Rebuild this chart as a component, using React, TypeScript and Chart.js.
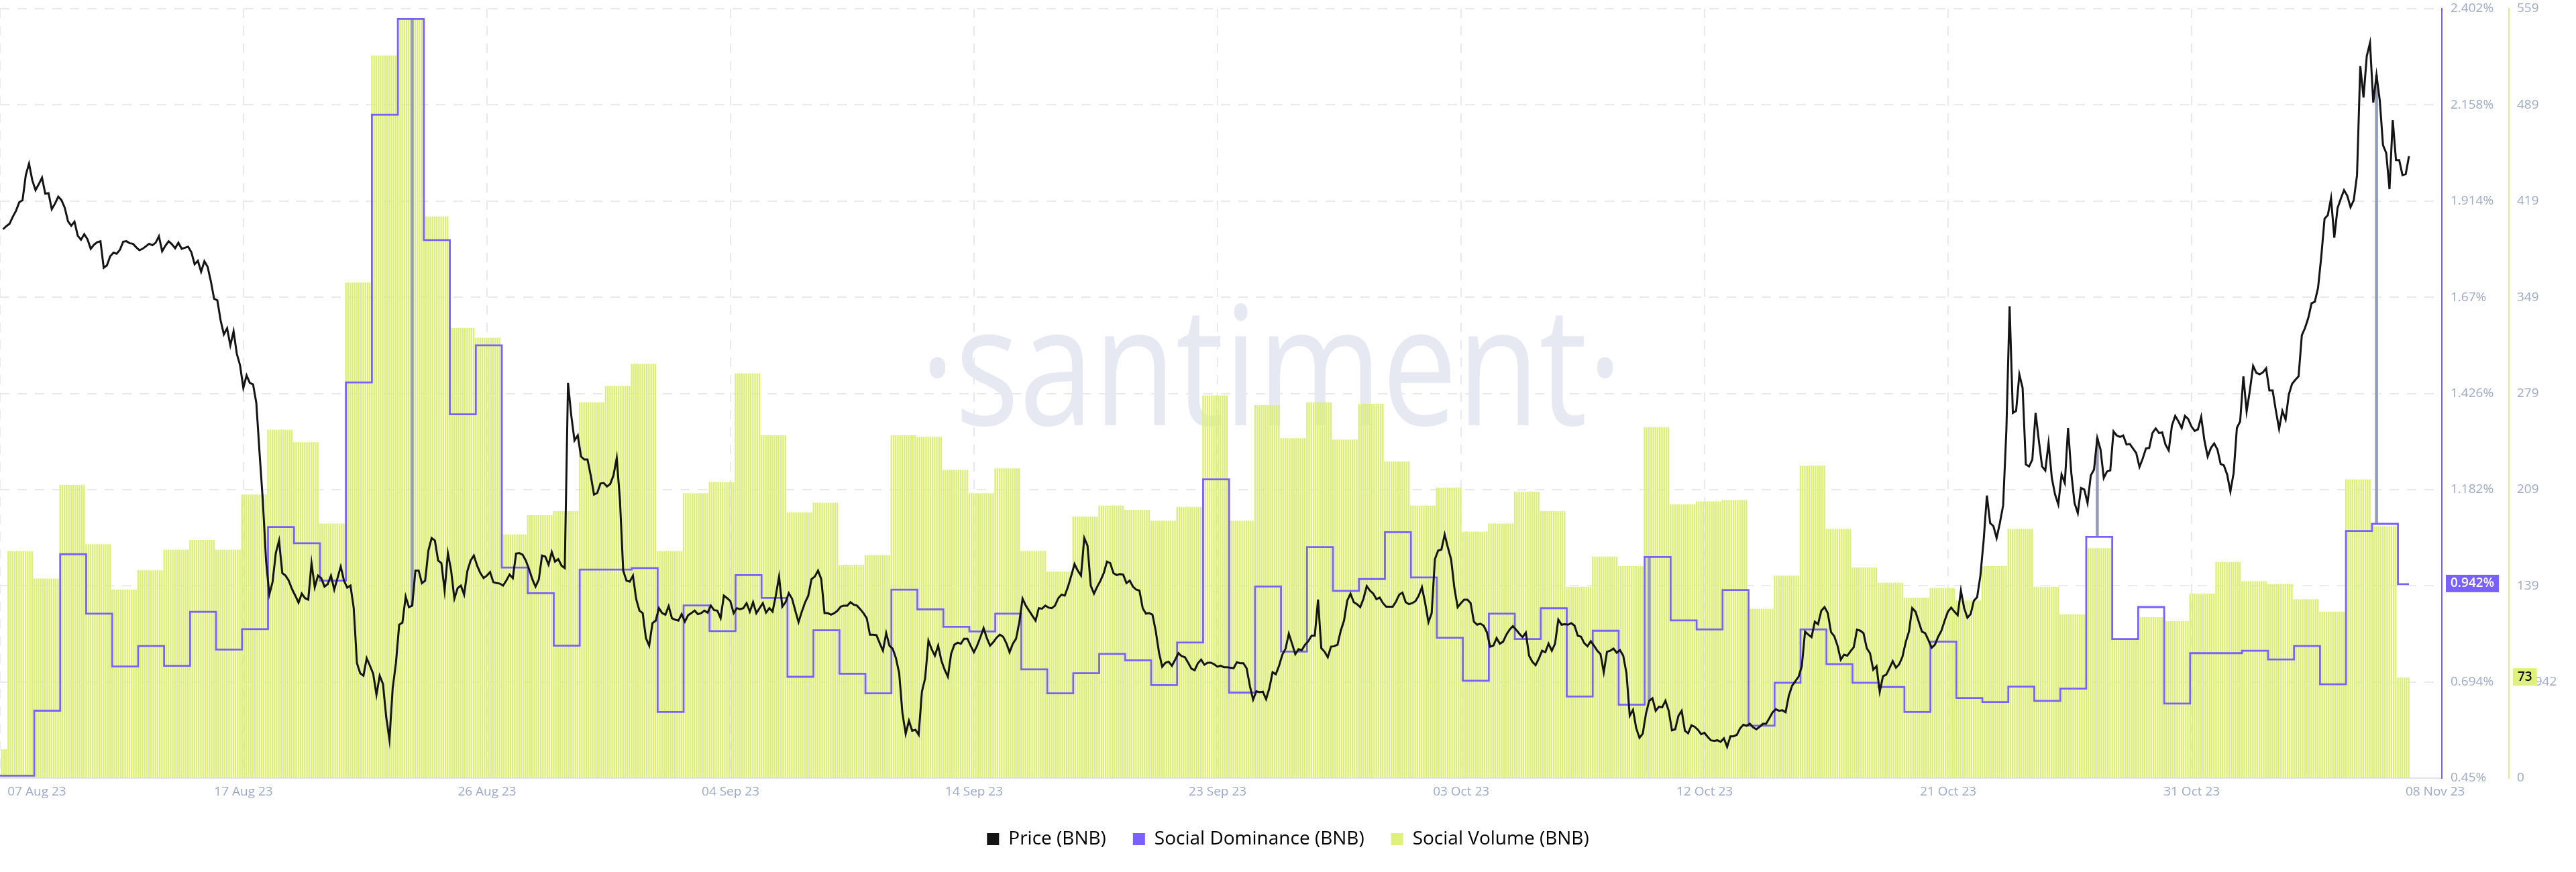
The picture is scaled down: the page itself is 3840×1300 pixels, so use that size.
import React, { useEffect, useRef } from 'react';
import { Chart, registerables } from 'chart.js';

Chart.register(...registerables);

// ---------- axis labels ----------
const xTickLabels = ['07 Aug 23', '17 Aug 23', '26 Aug 23', '04 Sep 23', '14 Sep 23', '23 Sep 23', '03 Oct 23', '12 Oct 23', '21 Oct 23', '31 Oct 23', '08 Nov 23'];
const domTickValues = [0.45, 0.694, 0.938, 1.182, 1.426, 1.67, 1.914, 2.158, 2.402];
const domTickLabels = ['0.45%', '0.694%', '0.938%', '1.182%', '1.426%', '1.67%', '1.914%', '2.158%', '2.402%'];
const volTickLabels = ['0', '69.942', '139', '209', '279', '349', '419', '489', '559'];

// ---------- daily series (day 0 = 07 Aug 23) ----------
const socialVolume = [
  21, 165, 145, 213, 170, 137, 151, 166, 173, 166,
  206, 253, 244, 185, 360, 525, 551, 408, 327, 320,
  177, 191, 194, 273, 285, 301, 165, 207, 215, 294,
  249, 193, 200, 155, 162, 249, 248, 224, 207, 225,
  165, 150, 190, 198, 195, 187, 197, 278, 187, 271,
  247, 273, 246, 272, 230, 198, 211, 179, 185, 208,
  194, 139, 161, 154, 255, 199, 201, 202, 123, 147,
  227, 181, 153, 142, 131, 138, 129, 154, 181, 139,
  119, 167, 101, 117, 114, 134, 157, 143, 141, 130,
  121, 217, 183, 73,
];

const socialDominance = [
  0.456, 0.456, 0.621, 1.018, 0.867, 0.733, 0.785, 0.735, 0.872, 0.776,
  0.828, 1.087, 1.046, 0.951, 1.454, 2.133, 2.376, 1.815, 1.373, 1.548,
  0.984, 0.919, 0.786, 0.979, 0.979, 0.983, 0.618, 0.888, 0.823, 0.965,
  0.907, 0.707, 0.825, 0.715, 0.665, 0.928, 0.878, 0.834, 0.822, 0.867,
  0.726, 0.665, 0.716, 0.765, 0.749, 0.686, 0.794, 1.208, 0.667, 0.936,
  0.771, 1.036, 0.925, 0.955, 1.074, 0.959, 0.806, 0.697, 0.867, 0.803,
  0.881, 0.657, 0.824, 0.636, 1.011, 0.850, 0.827, 0.927, 0.583, 0.692,
  0.827, 0.739, 0.692, 0.681, 0.618, 0.796, 0.653, 0.643, 0.682, 0.646,
  0.677, 1.062, 0.803, 0.884, 0.639, 0.767, 0.767, 0.773, 0.751, 0.785,
  0.688, 1.077, 1.095, 0.942,
];

// ---------- price, one value every 3 hours from day 0.8 ----------
const PRICE_START = 0.8;
const PRICE_STEP = 0.125;
const price = [
  241.68, 241.92, 242.12, 242.68, 243.16, 243.84, 244.00, 246.00, 246.92, 245.60,
  244.80, 245.28, 245.80, 244.52, 244.56, 243.28, 243.72, 244.28, 244.00, 243.40,
  242.32, 241.96, 242.28, 241.16, 240.84, 241.28, 240.88, 240.12, 240.44, 240.64,
  240.72, 238.60, 238.80, 239.52, 239.80, 239.72, 240.04, 240.68, 240.72, 240.56,
  240.52, 240.24, 240.00, 240.12, 240.32, 240.52, 240.40, 240.60, 241.12, 239.92,
  240.36, 240.72, 240.48, 240.16, 240.60, 240.12, 240.20, 240.28, 239.84, 238.88,
  239.16, 238.28, 239.12, 238.68, 237.52, 236.12, 236.00, 234.40, 233.28, 233.76,
  232.40, 233.52, 231.72, 230.80, 229.00, 230.00, 229.40, 229.28, 227.80, 223.80,
  220.00, 215.20, 212.48, 213.48, 215.80, 216.80, 214.20, 214.00, 213.60, 212.92,
  212.40, 211.84, 212.56, 212.20, 212.08, 215.00, 213.08, 214.00, 213.80, 213.12,
  213.32, 214.00, 212.88, 213.80, 214.72, 213.60, 213.04, 213.20, 211.40, 207.00,
  206.20, 206.00, 207.40, 206.80, 206.16, 204.48, 206.00, 205.36, 202.72, 200.88,
  205.00, 207.00, 210.08, 210.24, 212.32, 211.48, 211.60, 214.40, 214.40, 213.40,
  213.60, 216.00, 217.00, 216.80, 215.20, 215.00, 212.80, 215.80, 214.40, 212.16,
  213.00, 213.20, 212.48, 214.36, 215.20, 215.60, 214.80, 214.20, 213.80, 214.00,
  214.28, 213.48, 213.40, 213.36, 213.20, 213.60, 214.08, 213.80, 215.76, 215.80,
  215.68, 215.20, 214.52, 213.72, 213.12, 213.68, 215.60, 215.52, 214.88, 215.88,
  215.12, 215.32, 214.80, 214.60, 229.40, 226.80, 224.80, 225.20, 223.52, 223.28,
  223.28, 222.00, 220.48, 220.60, 221.36, 221.40, 221.12, 221.32, 222.00, 223.40,
  220.00, 214.40, 213.60, 213.52, 214.00, 212.12, 211.20, 211.00, 209.00, 208.40,
  210.20, 210.40, 211.40, 211.00, 210.88, 211.56, 210.60, 210.48, 210.40, 210.92,
  210.32, 210.84, 211.00, 211.20, 210.92, 211.00, 211.20, 211.04, 211.60, 211.24,
  211.20, 210.60, 212.40, 212.20, 211.96, 211.00, 211.40, 211.32, 211.40, 211.80,
  211.12, 211.88, 211.00, 211.40, 211.80, 211.04, 211.40, 211.12, 212.40, 213.92,
  211.52, 211.88, 212.60, 212.16, 211.20, 210.28, 211.12, 211.84, 212.40, 213.72,
  213.92, 214.40, 213.72, 211.00, 211.00, 210.88, 211.00, 211.20, 211.52, 211.60,
  211.60, 211.88, 211.68, 211.60, 211.32, 211.00, 210.60, 209.28, 209.28, 209.24,
  208.60, 208.00, 209.40, 208.40, 208.16, 207.40, 206.20, 203.00, 201.36, 202.40,
  201.60, 201.68, 201.28, 204.72, 205.80, 208.80, 208.12, 207.60, 208.40, 207.20,
  206.48, 205.92, 207.76, 208.48, 208.64, 208.56, 208.96, 208.96, 208.40, 207.88,
  208.40, 209.08, 209.80, 209.00, 208.40, 208.68, 209.04, 209.28, 209.12, 208.60,
  207.88, 208.56, 208.96, 210.28, 212.16, 211.60, 211.20, 210.80, 210.40, 211.40,
  211.36, 211.60, 211.44, 211.40, 211.60, 212.20, 212.48, 212.40, 213.12, 214.00,
  214.92, 214.40, 214.00, 217.00, 216.40, 213.20, 212.56, 213.12, 213.60, 214.20,
  215.12, 215.00, 214.20, 214.04, 214.12, 214.08, 213.40, 213.60, 213.12, 212.88,
  212.80, 211.40, 210.96, 211.00, 210.88, 209.60, 207.88, 206.72, 207.04, 207.12,
  206.80, 207.28, 207.80, 207.56, 207.48, 207.04, 206.56, 206.44, 207.00, 207.28,
  206.88, 207.04, 207.04, 206.92, 206.72, 206.80, 206.68, 206.68,
  206.64, 206.60, 207.08, 207.00, 207.00, 206.60, 205.20, 204.08, 204.76, 204.68,
  204.72, 204.12, 205.00, 206.28, 206.12, 206.80, 207.68, 208.16, 209.36, 208.56,
  207.72, 208.12, 208.04, 208.48, 208.76, 209.20, 209.20, 212.08, 208.20, 207.92,
  207.48, 208.32, 208.36, 208.48, 209.60, 210.40, 212.00, 212.56, 211.88, 211.72,
  211.48, 212.16, 213.16, 212.80, 212.56, 212.12, 212.24, 211.80, 211.52, 211.52,
  211.52, 211.92, 212.48, 212.64, 211.88, 211.72, 211.80, 211.96, 212.40, 213.08,
  211.80, 210.28, 211.00, 215.32, 216.00, 216.08, 217.28, 216.24, 215.28, 213.00,
  211.48, 211.80, 212.08, 212.08, 211.80, 210.32, 210.08, 210.16, 210.00, 209.48,
  208.32, 208.40, 209.00, 208.56, 208.72, 209.28, 209.68, 209.96, 209.68, 209.36,
  209.08, 209.44, 207.60, 207.12, 206.84, 207.36, 208.00, 207.88, 208.56, 208.00,
  208.56, 210.48, 210.08, 210.12, 210.08, 210.20, 210.00, 209.20, 209.12, 208.60,
  208.36, 208.76, 208.40, 208.00, 207.72, 206.28, 207.92, 208.00, 208.16, 207.84,
  208.04, 207.60, 206.20, 202.80, 203.28, 201.80, 201.04, 201.36, 202.96, 204.00,
  204.20, 203.20, 203.52, 203.48, 204.00, 203.20, 201.64, 201.72, 202.80, 203.20,
  201.60, 201.40, 202.04, 201.92, 201.68, 201.32, 201.44, 201.12, 200.84, 200.80,
  200.84, 200.72, 201.00, 200.32, 201.16, 201.16, 201.28, 201.80, 202.08, 202.00,
  202.16, 201.88, 201.72, 201.92, 202.16, 202.16, 202.60, 203.08, 203.32, 203.20,
  203.24, 203.08, 204.40, 205.20, 205.56, 205.92, 206.76, 209.52, 209.28, 209.08,
  210.32, 210.12, 211.20, 211.48, 211.00, 209.48, 209.16, 208.40,
  207.28, 207.68, 207.60, 207.96, 208.28, 209.68, 209.60, 209.40, 208.20, 207.80,
  206.48, 206.76, 204.72, 205.96, 206.08, 206.60, 207.16, 206.64, 206.92, 207.52,
  208.68, 209.52, 211.40, 211.12, 210.32, 209.52, 209.40, 208.84, 208.24, 208.48,
  209.12, 209.60, 210.40, 211.12, 211.44, 211.12, 210.84, 212.80, 211.40, 210.64,
  210.92, 212.00, 212.28, 214.00, 216.80, 220.40, 218.20, 217.96, 217.00, 218.20,
  219.60, 225.60, 235.52, 227.00, 227.16, 230.08, 229.00, 222.88, 222.72, 223.28,
  227.00, 224.80, 222.72, 222.40, 224.60, 221.80, 220.48, 219.68, 222.08, 221.40,
  225.80, 222.20, 219.80, 219.00, 221.00, 220.88, 219.80, 222.00, 222.48, 225.00,
  224.08, 221.80, 222.32, 222.40, 225.52, 225.20, 225.08, 225.20, 224.48, 224.52,
  224.16, 223.80, 222.68, 223.36, 224.16, 224.20, 225.40, 225.76, 225.40, 225.44,
  224.48, 224.00, 226.00, 226.76, 226.32, 225.80, 226.76, 226.52, 225.92, 225.56,
  225.68, 226.68, 224.80, 223.52, 224.20, 224.56, 224.08, 222.92, 222.80, 222.08,
  220.72, 222.20, 225.80, 226.32, 229.92, 227.12, 228.80, 230.76, 230.20, 230.08,
  230.24, 230.56, 228.80, 228.80, 227.20, 225.72, 227.16, 226.48, 228.48, 229.32,
  229.64, 229.92, 233.20, 233.80, 234.60, 235.76, 235.88, 237.00, 239.52, 242.52,
  242.80, 244.16, 241.00, 243.36, 244.12, 244.80, 244.36, 243.44, 244.00, 246.00,
  254.72, 252.20, 255.52, 256.56, 251.80, 254.00, 252.00, 248.40, 247.76, 244.88,
  250.40, 247.20, 247.20, 246.00, 246.08, 247.52,
];

// price samples where a grey connector to the dominance step is visible
const spikePriceIndex = [126, 507, 645, 731];

// ---------- styling ----------
const FONT = "'Open Sans', sans-serif";
const TICK_COLOR = '#9ea9c3';
const GRID_COLOR = '#e8e9f3';
const PURPLE = '#7a61ff';
const YELLOW = '#dcef74';
const BLACK = '#141414';
const LEGEND_COLORS = [BLACK, PURPLE, '#dff07c'];

const X_MIN = 0.682;
const X_MAX = 94.69;
const TICK_STEP = 9.3755;
const FIRST_LABEL_SHIFT = 1.42;
const BARS_PER_DAY = 12;

const watermarkPlugin = {
  id: 'watermark',
  beforeDatasetsDraw(chart: any) {
    const { ctx } = chart;
    ctx.save();
    ctx.fillStyle = '#e6e8f2';
    ctx.font = `200px ${FONT}`;
    ctx.textAlign = 'center';
    ctx.textBaseline = 'alphabetic';
    ctx.translate(1895, 634);
    ctx.scale(1, 1.24);
    ctx.fillText('\u00b7santiment\u00b7', 0, 0);
    ctx.restore();
  },
};

const spikePlugin = {
  id: 'spikes',
  beforeDatasetDraw(chart: any, args: any) {
    if (args.index !== 1) return;
    const { ctx } = chart;
    const yd = chart.scales.yDom;
    const meta = chart.getDatasetMeta(0);
    ctx.save();
    ctx.strokeStyle = '#959cb8';
    ctx.lineWidth = 4.5;
    spikePriceIndex.forEach((i) => {
      const pt = meta.data[i];
      if (!pt) return;
      const day = Math.floor(PRICE_START + i * PRICE_STEP);
      const yB = yd.getPixelForValue(socialDominance[day]);
      ctx.beginPath();
      ctx.moveTo(pt.x, pt.y);
      ctx.lineTo(pt.x, yB);
      ctx.stroke();
    });
    ctx.restore();
  },
};

function drawTag(ctx: CanvasRenderingContext2D, x: number, y: number, text: string, bg: string, fg: string) {
  ctx.save();
  ctx.font = `600 19px ${FONT}`;
  const w = ctx.measureText(text).width + 14;
  ctx.fillStyle = bg;
  ctx.fillRect(x, y - 14, w, 26);
  ctx.fillStyle = fg;
  ctx.textBaseline = 'middle';
  ctx.textAlign = 'left';
  ctx.fillText(text, x + 7, y - 1);
  ctx.restore();
}

const lastValuePlugin = {
  id: 'lastValue',
  afterDraw(chart: any) {
    const { ctx } = chart;
    const yd = chart.scales.yDom;
    const yv = chart.scales.yVol;
    const dv = socialDominance[socialDominance.length - 1];
    const vv = socialVolume[socialVolume.length - 1];
    drawTag(ctx, yd.left + 6, yd.getPixelForValue(dv), `${dv}%`, PURPLE, '#ffffff');
    drawTag(ctx, yv.left + 6, yv.getPixelForValue(vv), `${vv}`, '#dff07c', '#111111');
  },
};

const fitRightAxis = (s: any) => {
  s.width = 100;
  s.paddingTop = 0;
  s.paddingBottom = 0;
};

export default function App() {
  const ref = useRef<HTMLCanvasElement>(null);

  useEffect(() => {
    document.body.style.margin = '0';
    Chart.defaults.font.family = FONT;

    const DATA_END = PRICE_START + (price.length - 1) * PRICE_STEP;
    const priceData = price.map((v, i) => ({ x: PRICE_START + i * PRICE_STEP, y: v }));
    const domData = socialDominance.map((v, d) => ({ x: Math.max(d, X_MIN), y: v }));
    domData.push({ x: DATA_END, y: socialDominance[socialDominance.length - 1] });
    const barData: { x: number; y: number }[] = [];
    for (let k = Math.ceil(X_MIN * BARS_PER_DAY); k <= Math.floor(DATA_END * BARS_PER_DAY); k++) {
      const t = k / BARS_PER_DAY;
      barData.push({ x: t, y: socialVolume[Math.floor(t)] });
    }

    const tickFont = { size: 19, family: FONT };

    const chart = new Chart(ref.current as HTMLCanvasElement, {
      type: 'line',
      data: {
        datasets: [
          {
            type: 'line',
            label: 'Price (BNB)',
            data: priceData,
            yAxisID: 'yPrice',
            borderColor: BLACK,
            backgroundColor: BLACK,
            borderWidth: 3,
            pointRadius: 0,
            tension: 0,
            order: 0,
          },
          {
            type: 'line',
            label: 'Social Dominance (BNB)',
            data: domData,
            yAxisID: 'yDom',
            borderColor: PURPLE,
            backgroundColor: PURPLE,
            borderWidth: 2.8,
            pointRadius: 0,
            stepped: true,
            order: 1,
          },
          {
            type: 'bar',
            label: 'Social Volume (BNB)',
            data: barData,
            yAxisID: 'yVol',
            backgroundColor: YELLOW,
            borderWidth: 0,
            barPercentage: 0.72,
            categoryPercentage: 1,
            order: 2,
          },
        ],
      } as any,
      options: {
        animation: false,
        responsive: false,
        devicePixelRatio: 1,
        events: [],
        layout: { padding: { top: 13, left: 0, right: 0, bottom: 25 } },
        scales: {
          x: {
            type: 'linear',
            position: 'bottom',
            min: X_MIN,
            max: X_MAX,
            offset: false,
            afterBuildTicks: (s: any) => {
              s.ticks = xTickLabels.map((_, i) => ({ value: X_MIN + i * TICK_STEP }));
            },
            afterFit: (s: any) => { s.height = 0; },
            grid: {
              display: true,
              offset: false,
              drawTicks: false,
              lineWidth: 2,
              color: (c: any) => (c.index < xTickLabels.length - 1 ? GRID_COLOR : 'rgba(0,0,0,0)'),
            },
            border: { display: true, color: '#e2e5ee', width: 2, dash: [14, 12] },
            ticks: { display: false },
          },
          xl: {
            type: 'linear',
            position: 'bottom',
            min: X_MIN,
            max: X_MAX,
            offset: false,
            afterBuildTicks: (s: any) => {
              s.ticks = xTickLabels.map((_, i) => ({ value: X_MIN + i * TICK_STEP + (i === 0 ? FIRST_LABEL_SHIFT : 0) }));
            },
            afterFit: (s: any) => { s.height = 37; },
            grid: { display: false, drawTicks: false, offset: false },
            border: { display: false },
            ticks: {
              font: tickFont,
              color: TICK_COLOR,
              padding: 9,
              maxRotation: 0,
              autoSkip: false,
              callback: (_v: any, i: number) => xTickLabels[i],
            },
          },
          yDom: {
            type: 'linear',
            position: 'right',
            min: 0.45,
            max: 2.402,
            afterBuildTicks: (s: any) => {
              s.ticks = domTickValues.map((v) => ({ value: v }));
            },
            afterFit: fitRightAxis,
            grid: { display: true, drawOnChartArea: true, drawTicks: false, color: GRID_COLOR, lineWidth: 2 },
            border: { display: true, color: PURPLE, width: 2, dash: [14, 12] },
            ticks: {
              font: tickFont,
              color: TICK_COLOR,
              padding: 13,
              autoSkip: false,
              callback: (_v: any, i: number) => domTickLabels[i],
            },
          },
          yVol: {
            type: 'linear',
            position: 'right',
            min: 0,
            max: 559,
            afterBuildTicks: (s: any) => {
              s.ticks = volTickLabels.map((_, i) => ({ value: (i * 559) / (volTickLabels.length - 1) }));
            },
            afterFit: fitRightAxis,
            grid: { display: false, drawOnChartArea: false, drawTicks: false },
            border: { display: true, color: '#e0ef7e', width: 2 },
            ticks: {
              font: tickFont,
              color: TICK_COLOR,
              padding: 12,
              autoSkip: false,
              callback: (_v: any, i: number) => volTickLabels[i],
            },
          },
          yPrice: {
            type: 'linear',
            display: false,
            min: 197.82,
            max: 259.3,
          },
        } as any,
        plugins: {
          tooltip: { enabled: false },
          legend: {
            display: true,
            position: 'bottom',
            labels: {
              font: { size: 28, family: FONT },
              color: '#181b2d',
              boxWidth: 18,
              boxHeight: 18,
              padding: 40,
              generateLabels: (ch: any) =>
                ch.data.datasets.map((ds: any, i: number) => ({
                  text: ds.label,
                  fillStyle: LEGEND_COLORS[i],
                  strokeStyle: LEGEND_COLORS[i],
                  lineWidth: 0,
                  hidden: false,
                  datasetIndex: i,
                })),
            },
          },
        },
      } as any,
      plugins: [watermarkPlugin, spikePlugin, lastValuePlugin],
    });

    return () => chart.destroy();
  }, []);

  return (
    <div style={{ width: 3840, height: 1300, background: '#ffffff' }}>
      <canvas ref={ref} width={3840} height={1300} style={{ display: 'block', width: 3840, height: 1300 }} />
    </div>
  );
}
